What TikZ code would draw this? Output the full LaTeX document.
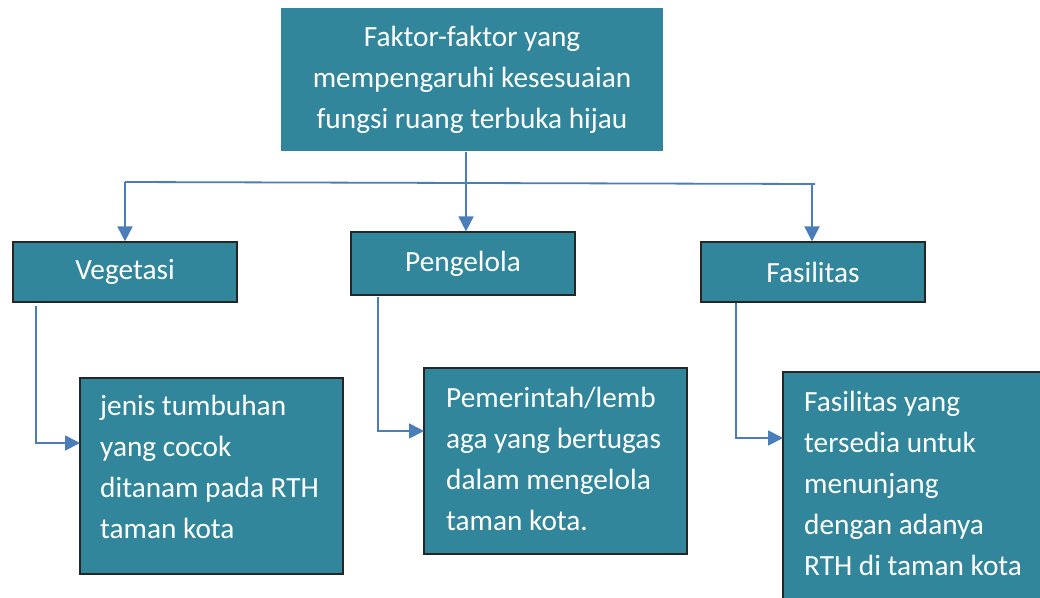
\documentclass[tikz,border=0pt]{standalone}
\usepackage{fontspec}
\setmainfont{Carlito}
\usetikzlibrary{arrows.meta}
\definecolor{tealbox}{HTML}{31869B}
\definecolor{lineblue}{HTML}{4A7EBB}
\definecolor{edgecol}{HTML}{262626}
\begin{document}
\begin{tikzpicture}[x=1pt,y=-1pt,
  box/.style={fill=tealbox, draw=edgecol, line width=1.2pt, text=white, inner sep=0pt,
    font=\fontsize{29.3}{41}\selectfont},
  lbl/.style={text=white, inner sep=0pt, align=left, anchor=base west,
    font=\fontsize{29.3}{41}\selectfont},
  conn/.style={draw=lineblue, line width=1.8pt, -{Triangle[width=15pt,length=15pt]}},
  plain/.style={draw=lineblue, line width=1.8pt}
]
\useasboundingbox (0,0) rectangle (1040,597);
\fill[white] (0,0) rectangle (1040,597);

% top box
\node[box, draw=none, minimum width=382pt, minimum height=143pt, align=center]
  (top) at (472,79.5) {Faktor-faktor yang\\mempengaruhi kesesuaian\\fungsi ruang terbuka hijau};

% second row
\node[box, minimum width=224pt, minimum height=60pt] (veg) at (125,272) {Vegetasi};
\node[box, minimum width=224pt, minimum height=63pt] (pen) at (463,263.5) {Pengelola};
\node[box, minimum width=224pt, minimum height=60pt] (fas) at (813,272) {Fasilitas};

% third row boxes
\node[box, minimum width=263pt, minimum height=196pt] (b1) at (211.5,476) {};
\node[box, minimum width=263pt, minimum height=186pt] (b2) at (555.5,461) {};
\node[box, minimum width=277pt, minimum height=248pt] (b3) at (921.5,496) {};

\node[lbl] (t1) at (100,538) {jenis tumbuhan\\yang cocok\\ditanam pada RTH\\taman kota};
\node[lbl] (t2) at (446,530) {Pemerintah/lemb\\aga yang bertugas\\dalam mengelola\\taman kota.};
\node[lbl] (t3) at (804,575) {Fasilitas yang\\tersedia untuk\\menunjang\\dengan adanya\\RTH di taman kota};

% distribution line
\coordinate (hl) at (125,182);
\coordinate (hr) at (815,184);
\coordinate (hm) at (466,183);
\draw[plain] (hl) -- (hr);
\draw[plain] (top.south -| hm) -- (hm);
\draw[conn] (hm) -- (pen.north -| hm);
\draw[conn] (hl) -- (veg.north -| hl);
\coordinate (hr2) at (812,184);
\draw[plain] (hr) -- (hr2);
\draw[conn] (hr2) -- (fas.north -| hr2);

% elbow connectors
\coordinate (v1) at (36,306);
\coordinate (v2) at (80,443);
\draw[conn] (v1) |- (v2);
\coordinate (p1) at (378,297);
\coordinate (p2) at (424,431);
\draw[conn] (p1) |- (p2);
\coordinate (f1) at (736,303);
\coordinate (f2) at (783,438);
\draw[conn] (f1) |- (f2);
\end{tikzpicture}
\end{document}
